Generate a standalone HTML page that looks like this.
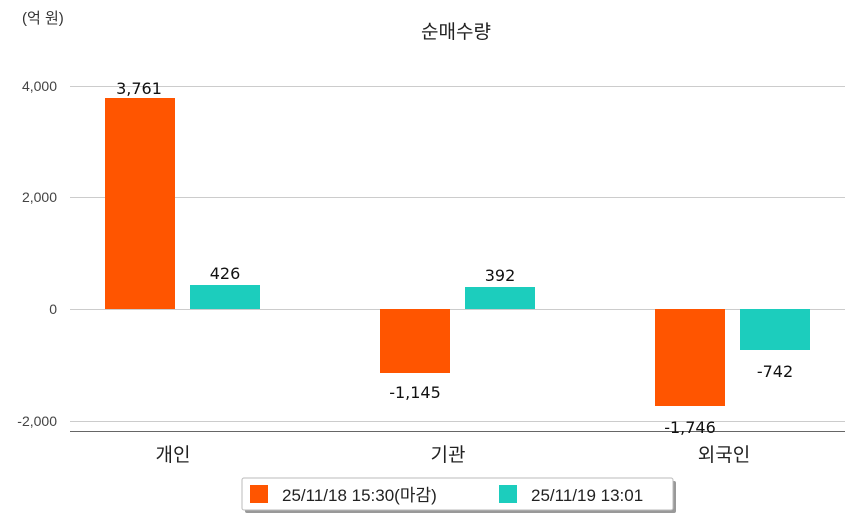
<!DOCTYPE html>
<html><head><meta charset="utf-8"><style>
body{margin:0;background:#fff;}
svg{display:block;font-family:"Liberation Sans","Noto Sans CJK KR",sans-serif;}
</style></head><body>
<svg width="854" height="520" viewBox="0 0 854 520">
<rect width="854" height="520" fill="#fff"/>
<text x="22" y="23" font-size="15" fill="#333">(억 원)</text>
<text x="456" y="38" font-size="19" fill="#222" text-anchor="middle">순매수량</text>
<g stroke="#ccc" stroke-width="1">
<line x1="70" y1="86.5" x2="845" y2="86.5"/>
<line x1="70" y1="197.5" x2="845" y2="197.5"/>
<line x1="70" y1="309.5" x2="845" y2="309.5"/>
<line x1="70" y1="421.5" x2="845" y2="421.5"/>
</g>
<line x1="70" y1="431.5" x2="845" y2="431.5" stroke="#666" stroke-width="1"/>
<g font-size="14" fill="#444" text-anchor="end">
<text x="57" y="91">4,000</text>
<text x="57" y="202">2,000</text>
<text x="57" y="314">0</text>
<text x="57" y="426">-2,000</text>
</g>
<g fill="#ff5500">
<rect x="105" y="98" width="70" height="211"/>
<rect x="380" y="309" width="70" height="64"/>
<rect x="655" y="309" width="70" height="97"/>
</g>
<g fill="#1ccdbd">
<rect x="190" y="285" width="70" height="24"/>
<rect x="465" y="287" width="70" height="22"/>
<rect x="740" y="309" width="70" height="41"/>
</g>
<g font-size="16" fill="#111" text-anchor="middle" style="font-family:'DejaVu Sans',sans-serif">
<text x="139" y="94">3,761</text>
<text x="225" y="279">426</text>
<text x="415" y="398">-1,145</text>
<text x="500" y="281">392</text>
<text x="690" y="433">-1,746</text>
<text x="775" y="377">-742</text>
</g>
<g font-size="19" fill="#222" text-anchor="middle">
<text x="173" y="461">개인</text>
<text x="448" y="461">기관</text>
<text x="724" y="461">외국인</text>
</g>
<rect x="245" y="481" width="431" height="32" fill="#999" rx="2"/>
<rect x="242" y="478" width="431" height="32" fill="#fff" stroke="#bbb" rx="2"/>
<rect x="250" y="485" width="18" height="18" fill="#ff5500"/>
<text x="282" y="501" font-size="17" fill="#222">25/11/18 15:30(마감)</text>
<rect x="499" y="485" width="18" height="18" fill="#1ccdbd"/>
<text x="531" y="501" font-size="17" fill="#222">25/11/19 13:01</text>
</svg>
</body></html>
